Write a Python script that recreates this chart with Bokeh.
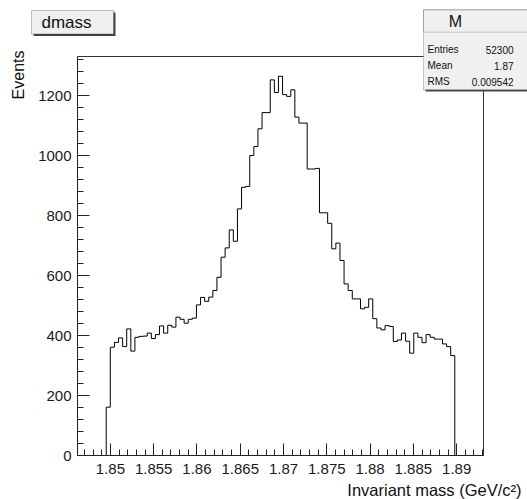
import math
import numpy as np
from bokeh.plotting import figure
from bokeh.models import (Range1d, FixedTicker, CustomJSTickFormatter,
                          Label, BoxAnnotation)
from bokeh.embed import file_html
from bokeh.resources import INLINE

# ---------------- data ----------------
hist_name = "dmass"
stats_title = "M"
stats_labels = ["Entries", "Mean", "RMS"]
stats_values = ["52300", "1.87", "0.009542"]
x_title = "Invariant mass (GeV/c\u00b2)"
y_title = "Events"

x_ticks = [1.85, 1.855, 1.86, 1.865, 1.87, 1.875, 1.88, 1.885, 1.89]
y_ticks = [0, 200, 400, 600, 800, 1000, 1200]

bin_lo = 1.8462
bin_hi = 1.8931
counts = [0, 0, 0, 0, 0, 0, 0,
          161, 361, 377, 392, 363, 422, 348, 394, 397, 398,
          408, 390, 403, 432, 408, 434, 428, 461, 454, 441,
          454, 458, 502, 527, 514, 528, 550, 594, 661, 692,
          752, 714, 822, 894, 897, 1000, 1030, 1089, 1143, 1143,
          1252, 1210, 1264, 1203, 1197, 1219, 1128, 1108, 1108, 955,
          955, 957, 809, 809, 774, 689, 708, 650, 572, 550,
          522, 522, 489, 494, 522, 456, 425, 419, 433, 430,
          380, 385, 408, 381, 341, 408, 394, 376, 403, 394,
          388, 388, 372, 363, 333,
          0, 0, 0, 0, 0, 0, 0]
y_max = 1330

# ---------------- layout ----------------
W, H = 527, 499
FL, FR, FT, FB = 77, 483, 56, 455   # histogram frame in page pixels
FONT = "Liberation Sans"


def sx(px):
    return bin_lo + (px - FL) * (bin_hi - bin_lo) / (FR - FL)


def sy(py):
    return y_max * (FB - py) / (FB - FT)


p = figure(width=W, height=H, x_range=Range1d(sx(0), sx(W)),
           y_range=Range1d(sy(H), sy(0)), output_backend="svg",
           toolbar_location=None, min_border=0)
p.title.visible = False
p.xgrid.visible = False
p.ygrid.visible = False
p.outline_line_color = None
p.background_fill_color = "white"
p.border_fill_color = "white"

x_minor = [round(1.847 + 0.001 * i, 3) for i in range(47)]
y_minor = [40 * i for i in range(34)]

for ax in (p.xaxis[0], p.yaxis[0]):
    ax.major_tick_in = 12
    ax.major_tick_out = 0
    ax.minor_tick_in = 6
    ax.minor_tick_out = 0
    ax.axis_line_color = "#222222"
    ax.major_tick_line_color = "#222222"
    ax.minor_tick_line_color = "#222222"
    ax.major_label_text_font = FONT
    ax.major_label_text_font_size = "15px"
    ax.major_label_text_color = "#1a1a1a"

xa = p.xaxis[0]
xa.fixed_location = 0
xa.bounds = (bin_lo, bin_hi)
xa.ticker = FixedTicker(ticks=x_ticks, minor_ticks=x_minor)
xa.formatter = CustomJSTickFormatter(
    code="return Number(tick.toFixed(4)).toString();")
xa.major_label_standoff = 8

ya = p.yaxis[0]
ya.fixed_location = bin_lo
ya.bounds = (0, y_max)
ya.ticker = FixedTicker(ticks=y_ticks, minor_ticks=y_minor)
ya.major_label_standoff = 6

# frame top / right
p.segment(x0=[bin_lo, bin_hi], y0=[y_max, 0], x1=[bin_hi, bin_hi], y1=[y_max, y_max],
          line_color="#333333", line_width=1)

# histogram outline
edges = np.linspace(bin_lo, bin_hi, len(counts) + 1)
p.step(edges, counts + [0], mode="after", line_color="black", line_width=1)

# title box
p.add_layout(BoxAnnotation(left=sx(33), right=sx(115), top=sy(12), bottom=sy(35.5),
                           fill_color="#444444", fill_alpha=1, line_color=None))
p.add_layout(BoxAnnotation(left=sx(31), right=sx(113), top=sy(10), bottom=sy(33.5),
                           fill_color="#efefef", fill_alpha=1, line_color="#333333",
                           line_width=1))
p.add_layout(Label(x=sx(41), y=sy(22), text=hist_name, text_baseline="middle",
                   text_align="left", text_font=FONT, text_font_size="17px",
                   text_color="#111111"))

# stats box
p.add_layout(BoxAnnotation(left=sx(425), right=sx(545), top=sy(11), bottom=sy(91),
                           fill_color="#444444", fill_alpha=1, line_color=None))
p.add_layout(BoxAnnotation(left=sx(423), right=sx(543), top=sy(9.3), bottom=sy(89.3),
                           fill_color="#f0f0f0", fill_alpha=1, line_color="#555555",
                           line_width=1))
p.add_layout(BoxAnnotation(left=sx(423), right=sx(543), top=sy(9.3), bottom=sy(31.7),
                           fill_color=None, fill_alpha=0, line_color="#555555",
                           line_width=1))
p.add_layout(Label(x=sx(455), y=sy(20.5), text=stats_title, text_baseline="middle",
                   text_align="center", text_font=FONT, text_font_size="16px",
                   text_color="#111111"))
row_y = [49, 65, 81]
for lab, val, ry in zip(stats_labels, stats_values, row_y):
    p.add_layout(Label(x=sx(427), y=sy(ry), text=lab, text_baseline="middle",
                       text_align="left", text_font=FONT, text_font_size="10px",
                       text_color="#111111"))
    p.add_layout(Label(x=sx(513), y=sy(ry), text=val, text_baseline="middle",
                       text_align="right", text_font=FONT, text_font_size="10px",
                       text_color="#111111"))

# axis titles
p.add_layout(Label(x=sx(521), y=sy(489), text=x_title, text_baseline="middle",
                   text_align="right", text_font=FONT, text_font_size="16.5px",
                   text_color="#111111"))
p.add_layout(Label(x=sx(18), y=sy(50), text=y_title, text_baseline="middle",
                   text_align="right", angle=math.pi / 2, text_font=FONT,
                   text_font_size="16px", text_color="#111111"))

open("out.html", "w").write(file_html(p, INLINE))
